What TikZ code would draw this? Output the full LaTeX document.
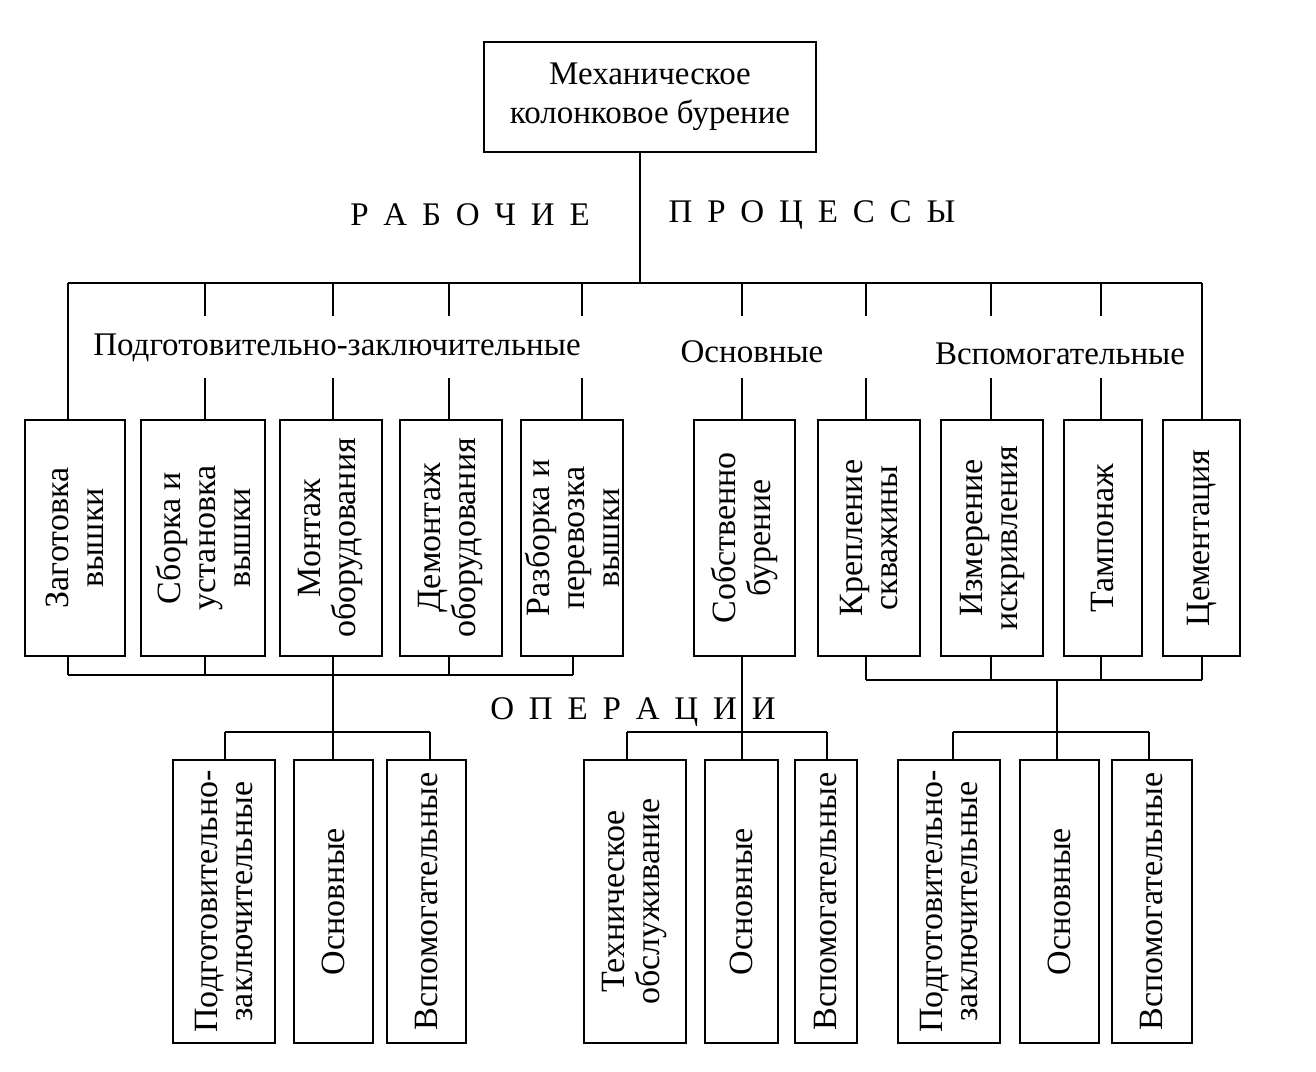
\documentclass[tikz,border=0pt]{standalone}
\usepackage{fontspec}
\setmainfont{Liberation Serif}
\newcommand{\lsp}{\hspace{0.45em}}
\begin{document}
\begin{tikzpicture}[x=1pt,y=-1pt,line width=1.3pt,
  bx/.style={draw,inner sep=0pt},
  vt/.style={rotate=90,align=center,font=\fontsize{34}{35}\selectfont},
  lb/.style={font=\fontsize{33}{36}\selectfont}]
\useasboundingbox (0,0) rectangle (1316,1071);
\node[bx,minimum width=332pt,minimum height=110pt,align=center,font=\fontsize{33}{39}\selectfont] (top) at (650,97) {Механическое\\колонковое бурение};
\node[lb] (rp1) at (470,215) {Р\lsp А\lsp Б\lsp О\lsp Ч\lsp И\lsp Е};
\node[lb] (rp2) at (812,215) {П\lsp Р\lsp О\lsp Ц\lsp Е\lsp С\lsp С\lsp Ы};
\coordinate (hub) at (640,283);
\draw (top.south -| hub) -- (hub);
\draw (68,283) -- (1202,283);
\foreach \n/\a/\b/\t in {a1/25/125/{Заготовка\\вышки},a2/141/265/{Сборка и\\установка\\вышки},a3/280/382/{Монтаж\\оборудования},a4/400/502/{Демонтаж\\оборудования},a5/521/623/{Разборка и\\перевозка\\вышки},a6/694/795/{Собственно\\бурение},a7/818/920/{Крепление\\скважины},a8/941/1043/{Измерение\\искривления},a9/1064/1142/{Тампонаж},a10/1163/1240/{Цементация}}{
  \node[bx,minimum width={\b-\a},minimum height=236pt] (\n) at ({(\a+\b)/2},538) {};
  \node[vt] at (\n) {\t};
}
\node[lb] (l1) at (337,348) {Подготовительно-заключительные};
\node[lb] (l2) at (752,352) {Основные};
\node[lb] (l3) at (1060,354) {Вспомогательные};
\draw (68,283) -- (68,420);
\draw (1202,283) -- (1202,420);
\foreach \x in {205,333,449,582,742,866,991,1101}{
  \draw (\x,283) -- (\x,316);
  \draw (\x,378) -- (\x,420);
}
\node[lb] (op) at (633,712) {О\lsp П\lsp Е\lsp Р\lsp А\lsp Ц\lsp И\lsp И};
\foreach \x in {68,205,449,573}{\draw (\x,656) -- (\x,675);}
\draw (68,675) -- (573,675);
\draw (333,656) -- (333,732);
\draw (225,732) -- (430,732);
\foreach \x in {225,333,430}{\draw (\x,732) -- (\x,760);}
\draw (742,656) -- (742,760);
\draw (627,732) -- (827,732);
\foreach \x in {627,827}{\draw (\x,732) -- (\x,760);}
\foreach \x in {866,991,1101,1202}{\draw (\x,656) -- (\x,680);}
\draw (866,680) -- (1202,680);
\draw (1057,680) -- (1057,732);
\draw (953,732) -- (1149,732);
\foreach \x in {953,1057,1149}{\draw (\x,732) -- (\x,760);}
\foreach \n/\a/\b/\t in {b1/173/275/{Подготовительно-\\заключительные},b2/294/373/{Основные},b3/387/466/{Вспомогательные},b4/584/686/{Техническое\\обслуживание},b5/705/778/{Основные},b6/795/857/{Вспомогательные},b7/898/1000/{Подготовительно-\\заключительные},b8/1020/1099/{Основные},b9/1112/1192/{Вспомогательные}}{
  \node[bx,minimum width={\b-\a},minimum height=283pt] (\n) at ({(\a+\b)/2},901.5) {};
  \node[vt] at (\n) {\t};
}
\end{tikzpicture}
\end{document}
